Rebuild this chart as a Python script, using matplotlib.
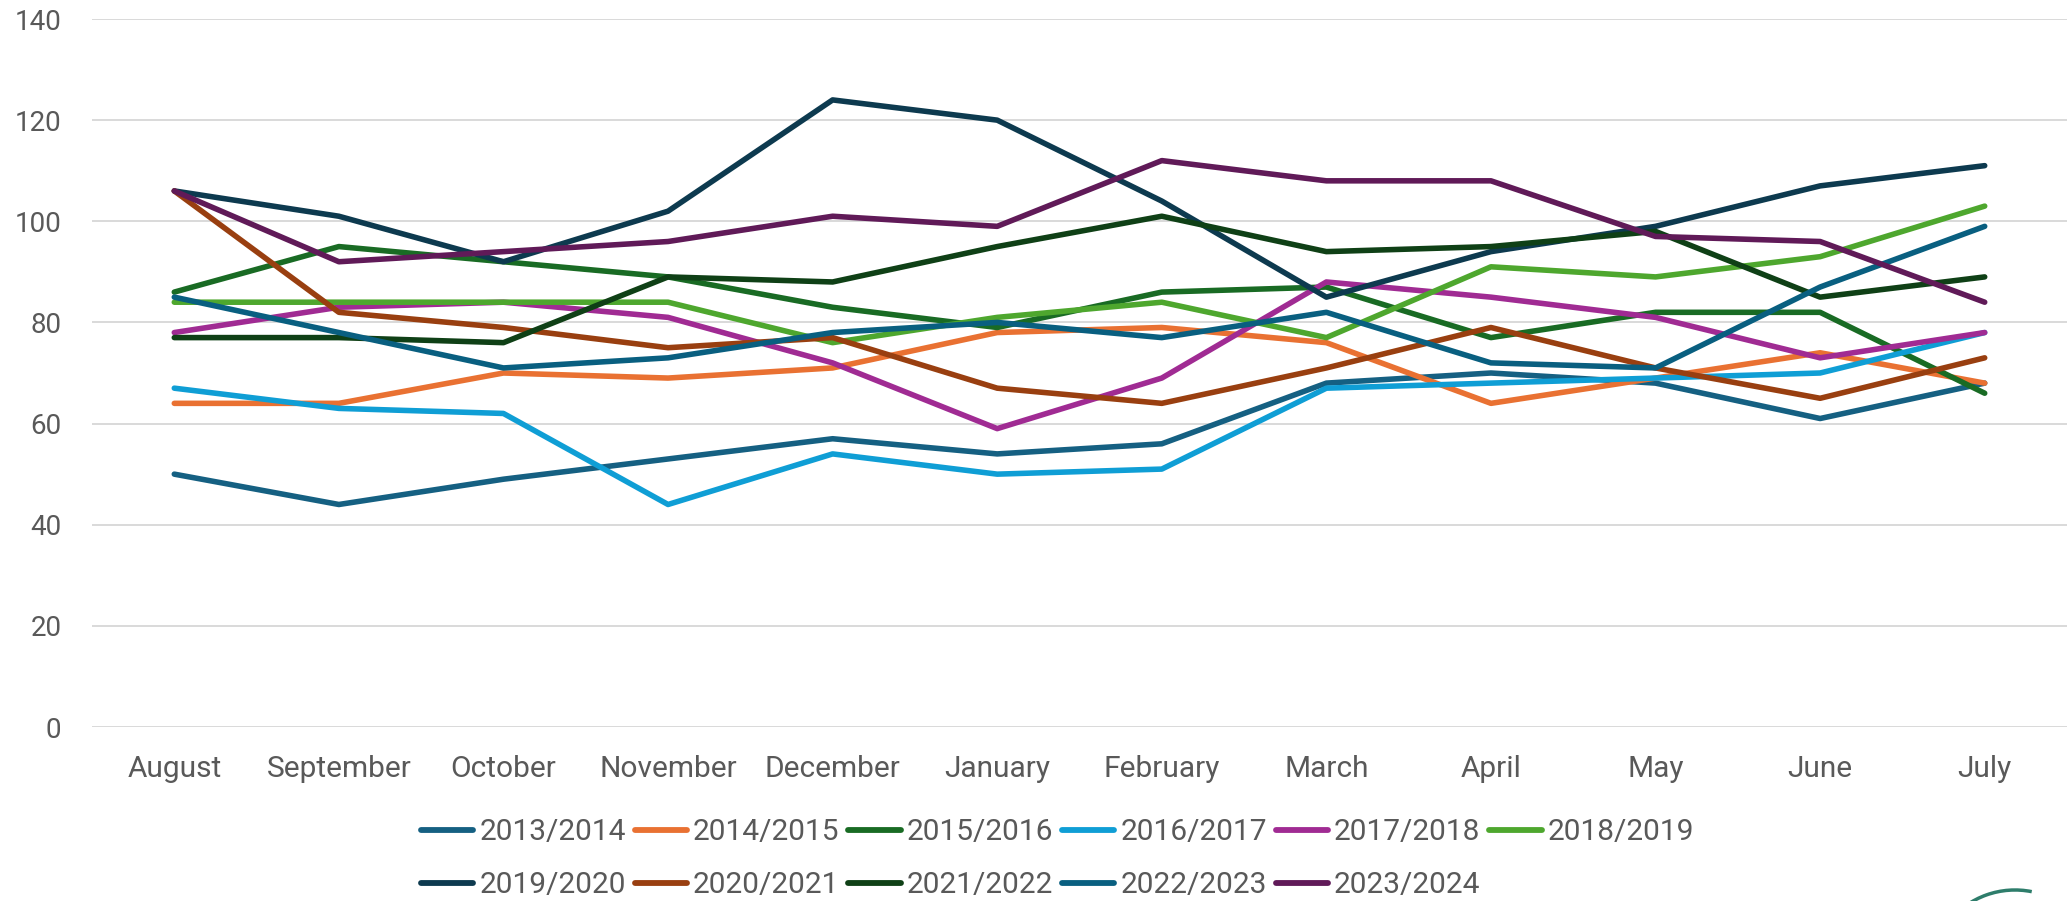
import matplotlib
matplotlib.use("Agg")
import matplotlib.pyplot as plt
from matplotlib.patches import Arc

plt.rcParams['font.family'] = ['Roboto', 'DejaVu Sans']

months = ['August', 'September', 'October', 'November', 'December', 'January',
          'February', 'March', 'April', 'May', 'June', 'July']

s2013 = [50, 44, 49, 53, 57, 54, 56, 68, 70, 68, 61, 68]
s2014 = [64, 64, 70, 69, 71, 78, 79, 76, 64, 69, 74, 68]
s2015 = [86, 95, 92, 89, 83, 79, 86, 87, 77, 82, 82, 66]
s2016 = [67, 63, 62, 44, 54, 50, 51, 67, 68, 69, 70, 78]
s2017 = [78, 83, 84, 81, 72, 59, 69, 88, 85, 81, 73, 78]
s2018 = [84, 84, 84, 84, 76, 81, 84, 77, 91, 89, 93, 103]
s2019 = [106, 101, 92, 102, 124, 120, 104, 85, 94, 99, 107, 111]
s2020 = [106, 82, 79, 75, 77, 67, 64, 71, 79, 71, 65, 73]
s2021 = [77, 77, 76, 89, 88, 95, 101, 94, 95, 98, 85, 89]
s2022 = [85, 78, 71, 73, 78, 80, 77, 82, 72, 71, 87, 99]
s2023 = [106, 92, 94, 96, 101, 99, 112, 108, 108, 97, 96, 84]

labels = ['2013/2014', '2014/2015', '2015/2016', '2016/2017', '2017/2018', '2018/2019',
          '2019/2020', '2020/2021', '2021/2022', '2022/2023', '2023/2024']
series = [s2013, s2014, s2015, s2016, s2017, s2018, s2019, s2020, s2021, s2022, s2023]
colors = ['#156082', '#E97132', '#196B24', '#0F9ED5', '#A02B93', '#4EA72E',
          '#0D3A4F', '#993F10', '#0F4016', '#095F80', '#601A58']

W, H = 2069, 901
fig = plt.figure(figsize=(W / 100, H / 100), dpi=100)
ax = fig.add_axes([92 / W, 1 - 727 / H, (2067 - 92) / W, (727 - 19) / H])

x = list(range(len(months)))
handles = []
for vals, lab, col in zip(series, labels, colors):
    h, = ax.plot(x, vals, color=col, lw=4.0, label=lab,
                 solid_capstyle='round', solid_joinstyle='round')
    handles.append(h)

ax.set_xlim(-0.5, len(months) - 0.5)
ax.set_ylim(0, 140)
ax.set_yticks(range(0, 141, 20))
ax.set_xticks(x)
ax.set_xticklabels(months)
ax.grid(axis='y', color='#D9D9D9', lw=1.4)
ax.set_axisbelow(True)
for sp in ax.spines.values():
    sp.set_visible(False)
ax.tick_params(axis='both', length=0, colors='#595959')
ax.tick_params(axis='x', pad=20, labelsize=21.5)
ax.tick_params(axis='y', pad=22, labelsize=20)

# legend filled row by row: 6 on first row, 5 on second
order = [0, 6, 1, 7, 2, 8, 3, 9, 4, 10, 5]
leg = fig.legend([handles[i] for i in order], [labels[i] for i in order],
                 ncol=6, loc='upper left', bbox_to_anchor=(421 / W, 1 - 818 / H),
                 frameon=False, fontsize=21.5, handlelength=1.75, handletextpad=0.2,
                 columnspacing=0.3, labelspacing=0.85, borderpad=0, borderaxespad=0)
for t in leg.get_texts():
    t.set_color('#595959')
for lh in leg.get_lines():
    lh.set_linewidth(4.2)
    lh.set_solid_capstyle('round')

# partial logo arc in the bottom-right corner
fig.add_artist(Arc((2015 / W, 1 - 975 / H), 170 / W, 170 / H, theta1=85, theta2=118,
                   transform=fig.transFigure, color='#2E7D6B', lw=2.5))

fig.savefig('out.png', dpi=100)
